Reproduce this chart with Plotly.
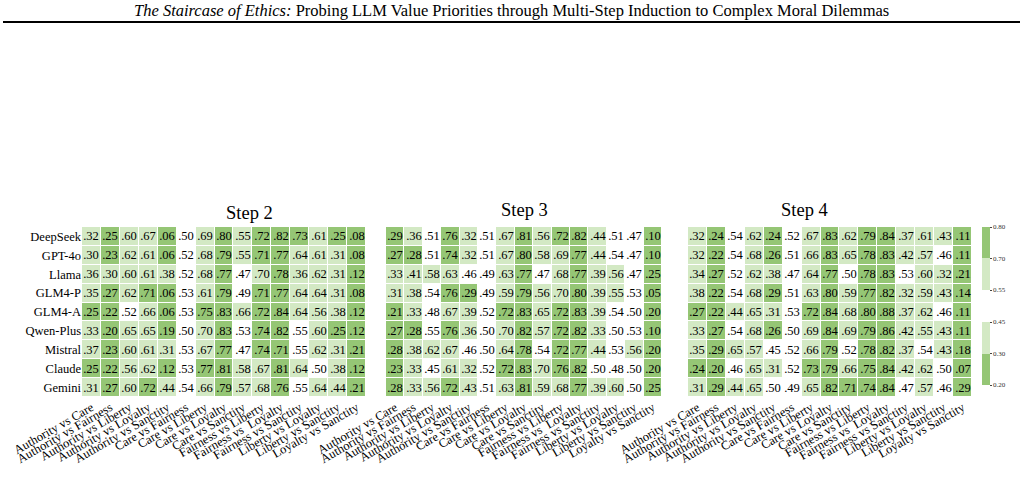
import plotly.graph_objects as go

# ---- data ----
models = ["DeepSeek", "GPT-4o", "Llama", "GLM4-P", "GLM4-A",
          "Qwen-Plus", "Mistral", "Claude", "Gemini"]

pairs = ["Authority vs Care", "Authority vs Fairness", "Authority vs Liberty",
         "Authority vs Loyalty", "Authority vs Sanctity", "Care vs Fairness",
         "Care vs Liberty", "Care vs Loyalty", "Care vs Sanctity",
         "Fairness vs Liberty", "Fairness vs  Loyalty", "Fairness vs Sanctity",
         "Liberty vs Loyalty", "Liberty vs Sanctity", "Loyalty vs Sanctity"]

# .553 = a ".55" cell drawn green, .55 = one left white
step2 = [
    [.32, .25, .60, .67, .06, .50, .69, .80, .553, .72, .82, .73, .61, .25, .08],
    [.30, .23, .62, .61, .06, .52, .68, .79, .553, .71, .77, .64, .61, .31, .08],
    [.36, .30, .60, .61, .38, .52, .68, .77, .47, .70, .78, .36, .62, .31, .12],
    [.35, .27, .62, .71, .06, .53, .61, .79, .49, .71, .77, .64, .64, .31, .08],
    [.25, .22, .52, .66, .06, .53, .75, .83, .66, .72, .84, .64, .56, .38, .12],
    [.33, .20, .65, .65, .19, .50, .70, .83, .53, .74, .82, .55, .60, .25, .12],
    [.37, .23, .60, .61, .31, .53, .67, .77, .47, .74, .71, .55, .62, .31, .21],
    [.25, .22, .56, .62, .12, .53, .77, .81, .58, .67, .81, .64, .50, .38, .12],
    [.31, .27, .60, .72, .44, .54, .66, .79, .57, .68, .76, .55, .64, .44, .21],
]

step3 = [
    [.29, .36, .51, .76, .32, .51, .67, .81, .56, .72, .82, .44, .51, .47, .10],
    [.27, .28, .51, .74, .32, .51, .67, .80, .58, .69, .77, .44, .54, .47, .10],
    [.33, .41, .58, .63, .46, .49, .63, .77, .47, .68, .77, .39, .56, .47, .25],
    [.31, .38, .54, .76, .29, .49, .59, .79, .56, .70, .80, .39, .553, .53, .05],
    [.21, .33, .48, .67, .39, .52, .72, .83, .65, .72, .83, .39, .54, .50, .20],
    [.27, .28, .55, .76, .36, .50, .70, .82, .57, .72, .82, .33, .50, .53, .10],
    [.28, .38, .62, .67, .46, .50, .64, .78, .54, .72, .77, .44, .53, .56, .20],
    [.23, .33, .45, .61, .32, .52, .72, .83, .70, .76, .82, .50, .48, .50, .20],
    [.28, .33, .56, .72, .43, .51, .63, .81, .59, .68, .77, .39, .60, .50, .25],
]

step4 = [
    [.32, .24, .54, .62, .24, .52, .67, .83, .62, .79, .84, .37, .61, .43, .11],
    [.32, .22, .54, .68, .26, .51, .66, .83, .65, .78, .83, .42, .57, .46, .11],
    [.34, .27, .52, .62, .38, .47, .64, .77, .50, .78, .83, .53, .60, .32, .21],
    [.38, .22, .54, .68, .29, .51, .63, .80, .59, .77, .82, .32, .59, .43, .14],
    [.27, .22, .44, .65, .31, .53, .72, .84, .68, .80, .88, .37, .62, .46, .11],
    [.33, .27, .54, .68, .26, .50, .69, .84, .69, .79, .86, .42, .553, .43, .11],
    [.35, .29, .65, .57, .45, .52, .66, .79, .52, .78, .82, .37, .54, .43, .18],
    [.24, .20, .46, .65, .31, .52, .73, .79, .66, .75, .84, .42, .62, .50, .07],
    [.31, .29, .44, .65, .50, .49, .65, .82, .71, .74, .84, .47, .57, .46, .29],
]

steps = [("Step 2", step2), ("Step 3", step3), ("Step 4", step4)]

# colorbar bins
upper_ticks = ["0.55", "0.70", "0.80"]
lower_ticks = ["0.20", "0.30", "0.45"]

DARK = "#95c675"
LIGHT = "#d3e9c4"
SERIF = "Liberation Serif, DejaVu Serif, serif"

cell_scale = [[0, DARK], [0.295, DARK], [0.295, LIGHT], [0.445, LIGHT],
              [0.445, "white"], [0.551, "white"], [0.551, LIGHT],
              [0.705, LIGHT], [0.705, DARK], [1, DARK]]

W, H = 1022, 486
x_domains = [(82, 366), (386, 662), (688, 972)]
y_top, y_bot = 227, 397


def px_(x):
    return x / W


def py(y):
    return 1 - y / H


fig = go.Figure()

for i, (name, vals) in enumerate(steps):
    n = "" if i == 0 else str(i + 1)
    text = [[f"{v:.2f}".lstrip("0") for v in row] for row in vals]
    fig.add_trace(go.Heatmap(
        z=vals, x=pairs, y=models, text=text, texttemplate="%{text}",
        textfont=dict(family=SERIF, size=12.5, color="black"),
        colorscale=cell_scale, zmin=0, zmax=1, showscale=False,
        xgap=1, ygap=1, hoverinfo="skip",
        xaxis="x" + n, yaxis="y" + n,
    ))
    x0, x1 = x_domains[i]
    fig.update_layout(**{
        "xaxis" + n: dict(domain=[px_(x0), px_(x1)], tickangle=-30, automargin=False,
                          tickfont=dict(family=SERIF, size=12.5, color="black"),
                          showgrid=False, zeroline=False, ticks="",
                          range=[-0.5, 14.5], anchor="y" + n),
        "yaxis" + n: dict(domain=[py(y_bot), py(y_top)], autorange="reversed",
                          showticklabels=(i == 0), automargin=False,
                          tickfont=dict(family=SERIF, size=12.5, color="black"),
                          showgrid=False, zeroline=False, ticks="",
                          anchor="x" + n),
    })
    fig.add_annotation(text=name, x=px_((x0 + x1) / 2), y=py(213 if i == 0 else 210),
                       xref="paper", yref="paper", showarrow=False, yanchor="middle",
                       font=dict(family=SERIF, size=18.5, color="black"))

# two split colorbars (0.55-0.80 above, 0.20-0.45 below)
for ticks, scale, yc in [
    (upper_ticks, [[0, LIGHT], [0.5, LIGHT], [0.5, DARK], [1, DARK]], 258.5),
    (lower_ticks, [[0, DARK], [0.5, DARK], [0.5, LIGHT], [1, LIGHT]], 353.5),
]:
    fig.add_trace(go.Scatter(
        x=[None], y=[None], mode="markers", showlegend=False, hoverinfo="skip",
        marker=dict(color=[0], colorscale=scale, cmin=0, cmax=2, showscale=True,
                    colorbar=dict(x=px_(982), xanchor="left", y=py(yc), yanchor="middle",
                                  len=63 / H, thickness=8, outlinewidth=0,
                                  xpad=0, ypad=0, tickvals=[0, 1, 2], ticktext=ticks,
                                  ticks="outside", ticklen=2, tickwidth=0.6,
                                  tickfont=dict(family=SERIF, size=7, color="#333"))),
    ))

# page header
fig.add_annotation(
    text="<i>The Staircase of Ethics:</i> Probing LLM Value Priorities through "
         "Multi-Step Induction to Complex Moral Dilemmas",
    x=px_(511), y=py(11), xref="paper", yref="paper", showarrow=False,
    yanchor="middle", font=dict(family=SERIF, size=16.5, color="black"))
fig.add_shape(type="line", xref="paper", yref="paper", x0=px_(3), x1=px_(1020),
              y0=py(22), y1=py(22), line=dict(color="black", width=2))

fig.update_layout(width=W, height=H, margin=dict(l=0, r=0, t=0, b=0),
                  paper_bgcolor="white", plot_bgcolor="white")

# drop the browser's default body margin so the figure sits at the page corner
fig.write_html("out.html", config={"displayModeBar": False},
               post_script="document.body.style.margin = '0';")
